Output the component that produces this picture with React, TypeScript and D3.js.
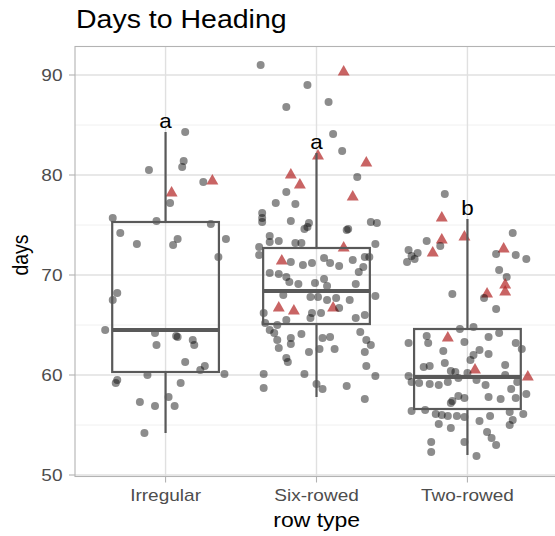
import React from "react";
import * as d3 from "d3";

// ---------- data ----------
const categories = ["Irregular", "Six-rowed", "Two-rowed"];
const letters = ["a", "a", "b"];
const yTicks = [50, 60, 70, 80, 90];
const yMinor = [55, 65, 75, 85];

// box statistics per category: [whiskerLow, Q1, median, Q3, whiskerHigh]
const boxIrregular = [54.2, 60.3, 64.5, 75.3, 84.3];
const boxSix = [57.8, 65.1, 68.4, 72.7, 82.2];
const boxTwo = [52.0, 56.6, 59.8, 64.6, 75.6];

// points: [jitter (category units), days, highlighted(1 = triangle)]
const ptsIrregular: number[][] = [
  [0.13, 84.3, 0], [-0.11, 80.5, 0], [0.12, 81.4, 0], [0.11, 80.8, 0], [0.25, 79.3, 0],
  [0.31, 79.4, 1], [0.04, 78.2, 1], [0.03, 77.2, 0], [-0.35, 75.7, 0], [-0.06, 75.4, 0],
  [0.30, 75.1, 0], [-0.30, 74.2, 0], [-0.19, 73.1, 0], [0.08, 73.6, 0], [0.05, 73.0, 0],
  [0.40, 73.6, 0], [0.35, 71.8, 0], [-0.32, 68.2, 0], [-0.35, 67.5, 0], [-0.40, 64.5, 0],
  [-0.07, 64.2, 0], [0.07, 63.9, 0], [0.08, 63.8, 0], [0.18, 63.5, 0], [0.19, 63.0, 0],
  [-0.06, 63.0, 0], [0.13, 61.3, 0], [0.26, 60.9, 0], [0.23, 60.5, 0], [0.39, 60.1, 0],
  [-0.12, 60.0, 0], [-0.32, 59.5, 0], [-0.33, 59.2, 0], [0.10, 59.2, 0], [0.02, 57.8, 0],
  [-0.17, 57.3, 0], [-0.07, 56.9, 0], [0.06, 56.9, 0], [-0.14, 54.2, 0],
];
const ptsSix: number[][] = [
  [-0.37, 91.0, 0], [0.18, 90.3, 1], [-0.06, 89.0, 0], [-0.20, 86.8, 0], [0.08, 87.3, 0],
  [0.11, 84.1, 0], [0.17, 82.4, 0], [0.01, 81.9, 1], [0.33, 81.2, 1], [0.27, 79.8, 0],
  [-0.17, 80.0, 1], [-0.11, 79.0, 1], [0.24, 77.8, 1], [-0.20, 78.3, 0], [-0.27, 77.2, 0],
  [-0.14, 77.1, 0], [-0.36, 76.2, 0], [-0.36, 75.7, 0], [-0.36, 75.3, 0], [-0.17, 75.4, 0],
  [-0.05, 75.2, 0], [-0.06, 74.8, 0], [-0.08, 74.6, 0], [0.20, 74.5, 0], [0.21, 74.6, 0],
  [0.36, 75.3, 0], [0.40, 75.2, 0], [-0.31, 73.9, 0], [-0.31, 73.3, 0], [-0.25, 73.4, 0],
  [-0.38, 72.8, 0], [-0.14, 73.2, 0], [-0.10, 73.2, 0], [0.39, 73.1, 0], [0.18, 72.7, 1],
  [-0.38, 72.0, 0], [-0.23, 71.4, 1], [-0.17, 71.3, 0], [-0.09, 71.0, 0], [-0.03, 71.2, 0],
  [0.05, 71.7, 0], [0.09, 71.2, 0], [0.15, 70.9, 0], [0.24, 71.5, 0], [0.32, 71.8, 0],
  [0.31, 70.8, 0], [0.28, 70.3, 0], [-0.31, 70.2, 0], [-0.25, 70.1, 0], [-0.20, 69.8, 0],
  [-0.18, 69.3, 0], [-0.12, 69.1, 0], [-0.01, 69.2, 0], [0.05, 69.6, 0], [0.07, 68.9, 0],
  [0.26, 69.1, 0], [0.35, 71.8, 0], [0.39, 67.9, 0], [-0.22, 68.0, 0], [-0.04, 67.8, 0],
  [0.01, 67.8, 0], [0.07, 67.5, 0], [0.13, 67.7, 0], [0.22, 67.5, 0], [-0.25, 66.7, 1],
  [-0.15, 66.4, 1], [0.11, 66.7, 1], [-0.35, 66.2, 0], [-0.20, 65.5, 0], [-0.03, 66.2, 0],
  [0.03, 66.2, 0], [-0.04, 65.7, 0], [0.15, 66.7, 0], [0.26, 65.7, 0], [0.32, 66.0, 0],
  [-0.34, 65.2, 0], [-0.26, 65.0, 0], [-0.31, 64.5, 0], [-0.28, 64.2, 0], [-0.26, 63.5, 0],
  [-0.17, 63.7, 0], [-0.10, 64.1, 0], [-0.17, 63.1, 0], [0.04, 63.7, 0], [0.09, 63.8, 0],
  [0.29, 64.3, 0], [0.33, 63.5, 0], [0.36, 63.0, 0], [-0.25, 62.7, 0], [-0.05, 62.3, 0],
  [0.02, 62.6, 0], [0.12, 62.6, 0], [0.32, 62.3, 0], [-0.20, 61.7, 0], [-0.19, 61.3, 0],
  [0.33, 60.9, 0], [-0.35, 60.1, 0], [-0.08, 60.1, 0], [0.39, 59.9, 0], [0.00, 59.1, 0],
  [0.04, 58.6, 0], [-0.35, 58.7, 0], [0.20, 58.9, 0], [0.32, 57.6, 0],
];
const ptsTwo: number[][] = [
  [-0.15, 78.1, 0], [-0.17, 75.7, 1], [-0.02, 73.8, 1], [-0.17, 73.5, 1], [-0.27, 73.4, 0],
  [-0.18, 72.9, 0], [-0.39, 72.5, 0], [-0.33, 72.2, 0], [-0.23, 72.2, 1], [-0.37, 71.9, 0],
  [-0.35, 71.6, 0], [-0.40, 71.3, 0], [0.30, 74.2, 0], [0.24, 72.6, 1], [0.19, 72.1, 0],
  [0.32, 72.0, 0], [0.39, 71.6, 0], [0.21, 70.5, 0], [0.26, 69.8, 0], [0.25, 69.0, 1],
  [0.25, 68.3, 1], [0.13, 68.1, 1], [-0.10, 68.1, 0], [0.11, 67.7, 0], [0.19, 66.6, 0],
  [0.04, 64.8, 0], [-0.05, 64.6, 0], [0.21, 64.2, 0], [-0.27, 63.9, 0], [-0.13, 63.7, 1],
  [0.14, 63.8, 0], [-0.39, 63.2, 0], [-0.26, 63.2, 0], [-0.02, 63.3, 0], [0.32, 63.2, 0],
  [0.36, 62.6, 0], [-0.16, 62.4, 0], [0.08, 62.5, 0], [0.04, 62.0, 0], [0.14, 62.1, 0],
  [0.02, 61.5, 0], [-0.15, 61.2, 0], [0.25, 61.0, 0], [-0.29, 60.8, 0], [-0.25, 60.9, 0],
  [-0.11, 60.4, 0], [-0.08, 60.3, 0], [0.05, 60.5, 1], [0.00, 60.2, 0], [0.25, 60.0, 0],
  [-0.39, 59.9, 0], [0.40, 59.8, 1], [-0.37, 59.3, 0], [-0.32, 59.2, 0], [-0.25, 59.1, 0],
  [-0.19, 59.0, 0], [-0.13, 59.3, 0], [-0.06, 59.7, 0], [0.06, 59.5, 0], [0.12, 59.0, 0],
  [0.33, 59.3, 0], [0.29, 58.6, 0], [-0.06, 57.9, 0], [-0.02, 57.7, 0], [-0.10, 57.4, 0],
  [-0.11, 57.2, 0], [0.14, 57.8, 0], [0.22, 57.6, 0], [0.32, 57.7, 0], [0.39, 58.1, 0],
  [-0.37, 56.4, 0], [-0.28, 56.5, 0], [-0.21, 56.1, 0], [-0.17, 56.0, 0], [-0.13, 55.9, 0],
  [-0.07, 55.9, 0], [-0.02, 55.8, 0], [0.08, 55.4, 0], [0.15, 55.9, 0], [0.28, 56.3, 0],
  [0.37, 56.1, 0], [0.30, 55.5, 0], [0.28, 55.0, 0], [-0.19, 55.1, 0], [-0.11, 54.7, 0],
  [0.13, 54.3, 0], [0.16, 53.7, 0], [0.19, 53.0, 0], [-0.24, 53.3, 0], [-0.24, 52.3, 0],
  [-0.02, 53.3, 0], [0.06, 51.9, 0],
];

const boxes = [boxIrregular, boxSix, boxTwo];
const points = [ptsIrregular, ptsSix, ptsTwo];

// ---------- layout ----------
const W = 555;
const H = 536;
const left = 75;
const right = 558;
const top = 46.5;
const bottom = 476.5;
const SX = 1.12; // horizontal glyph stretch seen in the reference

const font = "'Liberation Sans', Arial, Helvetica, sans-serif";

function T(props: {
  x: number; y: number; size: number; fill?: string; anchor?: string; rotate?: number; sx?: number; dy?: string;
  children: React.ReactNode;
}) {
  const sx = props.sx ?? SX;
  const rot = props.rotate ? ` rotate(${props.rotate})` : "";
  return (
    <text
      transform={`translate(${props.x},${props.y}) scale(${sx},1)${rot}`}
      textAnchor={props.anchor ?? "start"}
      fontSize={props.size}
      fill={props.fill ?? "#000"}
      dy={props.dy}
    >
      {props.children}
    </text>
  );
}

export default function App() {
  const x = d3.scalePoint<string>().domain(categories).range([left, right]).padding(0.6);
  const step = x.step();
  const y = d3.scaleLinear().domain([49.85, 92.85]).range([bottom, top]);
  const boxW = step * 0.707;
  const tri = d3.symbol().type(d3.symbolTriangle).size(62)()!;

  return (
    <div style={{ position: "fixed", left: 0, top: 0 }}>
      <svg width={W} height={H} style={{ display: "block", background: "white" }} fontFamily={font}>
        <defs>
          <clipPath id="panel">
            <rect x={left} y={top} width={right - left} height={bottom - top} />
          </clipPath>
        </defs>
        {/* grid */}
        {yMinor.map((v) => (
          <line key={"mn" + v} x1={left} x2={right} y1={y(v)} y2={y(v)} stroke="#ececec" strokeWidth={0.8} />
        ))}
        {yTicks.map((v) => (
          <line key={"mj" + v} x1={left} x2={right} y1={y(v)} y2={y(v)} stroke="#e0e0e0" strokeWidth={1.4} />
        ))}
        {categories.map((c) => (
          <line key={"vg" + c} x1={x(c)!} x2={x(c)!} y1={top} y2={bottom} stroke="#e0e0e0" strokeWidth={1.4} />
        ))}
        {/* points */}
        <g clipPath="url(#panel)">
          {categories.map((c, i) =>
            points[i].map((p, j) => {
              const px = x(c)! + p[0] * step;
              const py = y(p[1]);
              return p[2] === 1 ? (
                <path key={c + j} d={tri} transform={`translate(${px},${py})`} fill="#b22222" fillOpacity={0.7} />
              ) : (
                <circle key={c + j} cx={px} cy={py} r={4} fill="#000" fillOpacity={0.45} />
              );
            })
          )}
        </g>
        {/* boxes */}
        {categories.map((c, i) => {
          const b = boxes[i];
          const cx = x(c)!;
          return (
            <g key={"box" + c} stroke="#595959" fill="none">
              <line x1={cx} x2={cx} y1={y(b[0])} y2={y(b[1])} strokeWidth={2.2} />
              <line x1={cx} x2={cx} y1={y(b[3])} y2={y(b[4])} strokeWidth={2.2} />
              <rect x={cx - boxW / 2} y={y(b[3])} width={boxW} height={y(b[1]) - y(b[3])} strokeWidth={2.2} />
              <line x1={cx - boxW / 2} x2={cx + boxW / 2} y1={y(b[2])} y2={y(b[2])} strokeWidth={4.2} />
            </g>
          );
        })}
        {/* letters */}
        {categories.map((c, i) => (
          <T key={"lt" + c} x={x(c)!} y={y(boxes[i][4]) - 4} anchor="middle" size={20}>
            {letters[i]}
          </T>
        ))}
        {/* panel border */}
        <rect x={left} y={top} width={right - left} height={bottom - top} fill="none" stroke="#b3b3b3" strokeWidth={1.1} />
        {/* y axis */}
        {yTicks.map((v) => (
          <g key={"yt" + v}>
            <line x1={left - 6} x2={left} y1={y(v)} y2={y(v)} stroke="#b3b3b3" strokeWidth={1.1} />
            <T x={62.5} y={y(v)} dy="0.35em" anchor="end" size={17} fill="#4d4d4d">
              {v}
            </T>
          </g>
        ))}
        {/* x axis */}
        {categories.map((c) => (
          <g key={"xt" + c}>
            <line x1={x(c)!} x2={x(c)!} y1={bottom} y2={bottom + 6} stroke="#b3b3b3" strokeWidth={1.1} />
            <T x={x(c)!} y={bottom + 24.5} anchor="middle" size={17} fill="#4d4d4d">
              {c}
            </T>
          </g>
        ))}
        {/* titles */}
        <T x={76} y={28} size={25} sx={1.14}>Days to Heading</T>
        <T x={316.7} y={526.5} anchor="middle" size={20} sx={1.15}>row type</T>
        <T x={27.5} y={255} anchor="middle" size={19.5} rotate={-90}>days</T>
      </svg>
    </div>
  );
}
